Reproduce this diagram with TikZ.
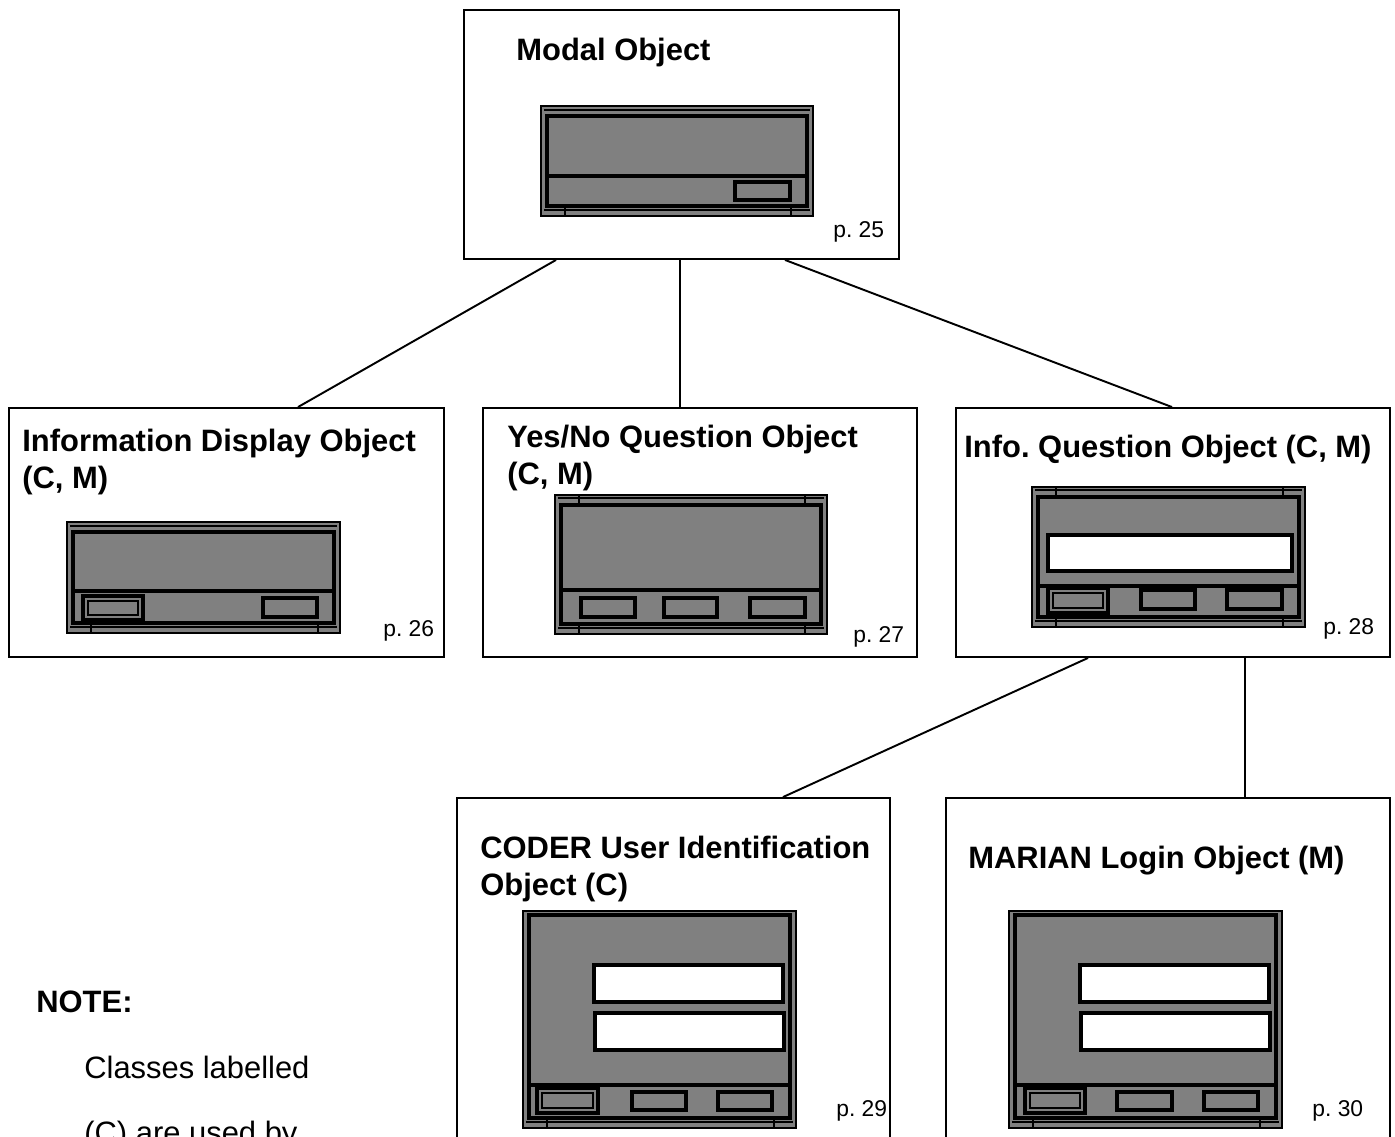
\documentclass[tikz,border=0pt]{standalone}
\usepackage{fontspec}
\setmainfont{Liberation Sans}
\frenchspacing
\definecolor{wingray}{RGB}{128,128,128}

% A small dialog-window pictogram: outer frame, body with a button bar,
% thin strips at the bottom (and optionally the top) with tick marks.
% #1,#2 top-left  #3,#4 bottom-right  #5 y of the button-bar divider
% #6 top style: 0 = plain gap, 1 = gap with ticks, 2 = no gap
\newcommand\winicon[6]{%
  \draw[winframe] (#1,#2) rectangle (#3,#4);
  \draw[winthin] ({#1+24},{#4-8}) -- ({#1+24},#4) ({#3-22},{#4-8}) -- ({#3-22},#4);
  \draw[winthin] ({#1+3},{#4-6}) -- ({#3-3},{#4-6});
  \ifnum#6=1
    \draw[winthin] ({#1+24},#2) -- ({#1+24},{#2+8}) ({#3-22},#2) -- ({#3-22},{#2+8});
    \draw[winthin] ({#1+3},{#2+3}) -- ({#3-3},{#2+3});
  \fi
  \ifnum#6=0
    \draw[winthin] ({#1+3},{#2+4}) -- ({#3-3},{#2+4});
  \fi
  \ifnum#6=2
    \draw[winbody] ({#1+6},{#2+4}) rectangle ({#3-6},{#4-10});
  \else
    \draw[winbody] ({#1+6},{#2+10}) rectangle ({#3-6},{#4-10});
  \fi
  \draw[winbody] ({#1+6},#5) -- ({#3-6},#5);
}
% plain push button
\newcommand\winbtn[4]{\draw[winbtn] (#1,#2) rectangle (#3,#4);}
% default push button with doubled border
\newcommand\windefbtn[4]{%
  \draw[winbtn] (#1,#2) rectangle (#3,#4);
  \draw[winthin] ({#1+5},{#2+5}) rectangle ({#3-5},{#4-5});}
% white entry field
\newcommand\winfield[4]{\draw[winfield] (#1,#2) rectangle (#3,#4);}

\begin{document}
\begin{tikzpicture}[x=0.02cm, y=-0.02cm,
  classbox/.style={draw=black, line width=1.1pt, fill=white, rectangle, inner sep=0pt},
  link/.style={draw=black, line width=1.1pt},
  titletext/.style={anchor=base west, inner sep=0pt, font=\fontsize{17.6}{21}\selectfont\bfseries},
  pagetext/.style={anchor=base west, inner sep=0pt, font=\fontsize{13}{15}\selectfont},
  notetext/.style={anchor=base west, inner sep=0pt, font=\fontsize{17.6}{21}\selectfont},
  winframe/.style={fill=wingray, draw=black, line width=1.4pt},
  winthin/.style={draw=black, line width=0.9pt},
  winbody/.style={draw=black, line width=2.1pt},
  winbtn/.style={fill=wingray, draw=black, line width=2.1pt},
  winfield/.style={fill=white, draw=black, line width=2.1pt}]

\clip (0,0) rectangle (1395,1136);
\fill[white] (0,0) rectangle (1395,1136);

% class boxes
\node[classbox, minimum width=8.7cm, minimum height=4.98cm] (modal) at (681.5,134.5) {};
\node[classbox, minimum width=8.7cm, minimum height=4.98cm] (infodisp) at (226.5,532.5) {};
\node[classbox, minimum width=8.68cm, minimum height=4.98cm] (yesno) at (700,532.5) {};
\node[classbox, minimum width=8.68cm, minimum height=4.98cm] (infoq) at (1173,532.5) {};
\node[classbox, minimum width=8.66cm, minimum height=7.2cm] (coder) at (673.5,978) {};
\node[classbox, minimum width=8.88cm, minimum height=7.2cm] (marian) at (1168,978) {};

% inheritance links
\draw[link] ([xshift=-2.51cm]modal.south) -- ([xshift=1.43cm]infodisp.north);
\draw[link] ([xshift=-0.03cm]modal.south) -- ([xshift=-0.4cm]yesno.north);
\draw[link] ([xshift=2.07cm]modal.south) -- ([xshift=-0.02cm]infoq.north);
\draw[link] ([xshift=-1.7cm]infoq.south) -- ([xshift=2.19cm]coder.north);
\draw[link] ([xshift=1.44cm]infoq.south) -- ([xshift=1.54cm]marian.north);

% titles
\node[titletext] (t-modal) at (516,60) {Modal Object};
\node[titletext] (t-disp1) at (22,451) {Information Display Object};
\node[titletext] (t-disp2) at (22,488) {(C, M)};
\node[titletext] (t-yn1) at (507,447) {Yes/No Question Object};
\node[titletext] (t-yn2) at (507,484) {(C, M)};
\node[titletext] (t-iq) at (964,457) {Info. Question Object (C, M)};
\node[titletext] (t-cod1) at (480,858) {CODER User Identification};
\node[titletext] (t-cod2) at (480,895) {Object (C)};
\node[titletext] (t-mar) at (968,868) {MARIAN Login Object (M)};

% page references
\node[pagetext] (p25) at (833,237) {p. 25};
\node[pagetext] (p26) at (383,636) {p. 26};
\node[pagetext] (p27) at (853,642) {p. 27};
\node[pagetext] (p28) at (1323,634) {p. 28};
\node[pagetext] (p29) at (836,1116) {p. 29};
\node[pagetext] (p30) at (1312,1116) {p. 30};

% note
\node[titletext] (note) at (36,1012) {NOTE:};
\node[notetext] (note1) at (84,1078) {Classes labelled};
\node[notetext] (note2) at (84,1143) {(C) are used by};

% window pictograms
\winicon{541}{106}{813}{216}{176}{0}
\winbtn{735}{182}{790}{200}

\winicon{67}{522}{340}{633}{591}{0}
\windefbtn{83}{596}{143}{620}
\winbtn{263}{598}{317}{617}

\winicon{555}{495}{827}{634}{590}{1}
\winbtn{581}{598}{635}{617}
\winbtn{664}{598}{717}{617}
\winbtn{750}{598}{805}{617}

\winicon{1032}{487}{1305}{627}{586}{1}
\winfield{1048}{535}{1292}{571}
\windefbtn{1048}{588}{1108}{613}
\winbtn{1141}{590}{1195}{609}
\winbtn{1227}{590}{1282}{609}

\winicon{523}{911}{796}{1128}{1085}{2}
\winfield{594}{965}{783}{1002}
\winfield{595}{1013}{784}{1050}
\windefbtn{537}{1088}{598}{1113}
\winbtn{632}{1092}{686}{1110}
\winbtn{718}{1092}{772}{1110}

\winicon{1009}{911}{1282}{1128}{1085}{2}
\winfield{1080}{965}{1269}{1002}
\winfield{1081}{1013}{1270}{1050}
\windefbtn{1025}{1088}{1085}{1113}
\winbtn{1117}{1092}{1172}{1110}
\winbtn{1204}{1092}{1258}{1110}

\end{tikzpicture}
\end{document}
